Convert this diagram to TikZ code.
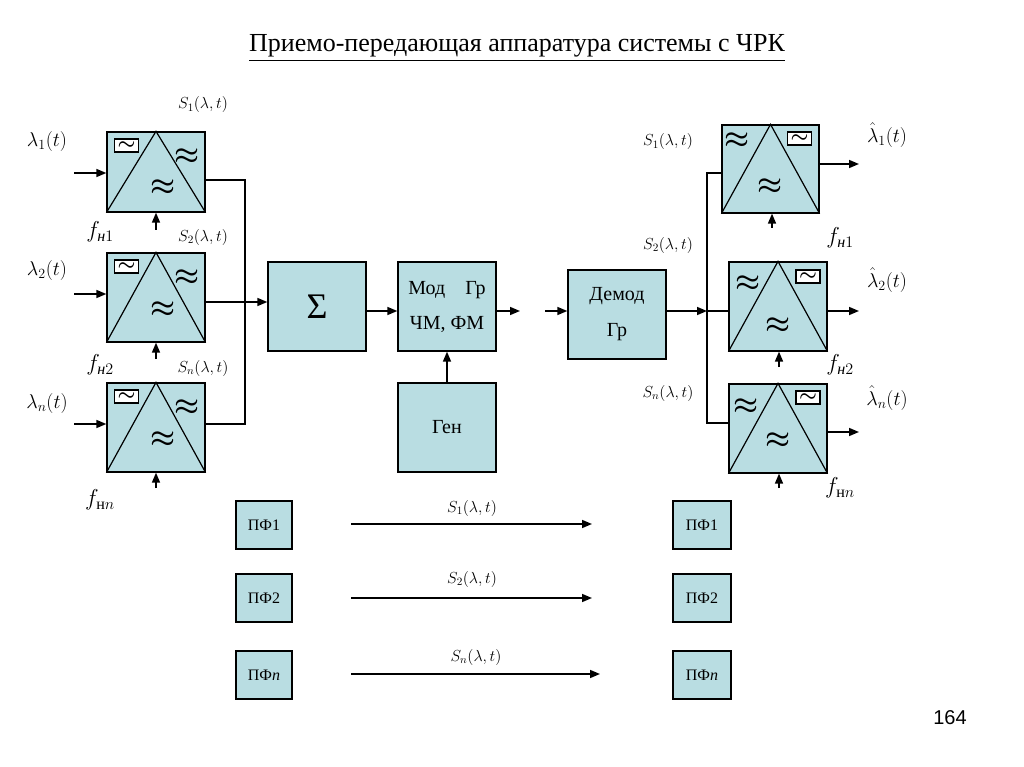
\RequirePackage{fix-cm}
\documentclass[tikz,border=0pt]{standalone}
\usepackage{amsmath}
\usepackage{fontspec}
\setmainfont{Liberation Serif}
\newfontfamily\numfont{Liberation Sans}
\usepackage{tikz}
\usetikzlibrary{arrows.meta,positioning,calc}
\definecolor{blockfill}{RGB}{185,221,226}

\begin{document}
\begin{tikzpicture}
	[x=1pt,y=-1pt,
	blk/.style={rectangle,draw=black,fill=blockfill,line width=1.3pt,
		inner sep=0pt,minimum width=98pt,minimum height=89pt,font=\fontsize{20}{22}\selectfont},
	pfblk/.style={rectangle,draw=black,fill=blockfill,line width=1.3pt,
		inner sep=0pt,minimum height=48pt,font=\fontsize{16}{16}\selectfont},
	tilde/.style={rectangle,draw=black,fill=white,line width=1.4pt,
		inner sep=0pt,minimum width=24pt,minimum height=13pt,font=\fontsize{20}{20}\selectfont},
	apx/.style={inner sep=0pt,font=\fontsize{28}{28}\selectfont},
	tri/.style={black,line width=1.2pt},
	wire/.style={black,line width=1.2pt},
	arr/.style={-{Triangle[length=10pt,width=8pt]},line width=1.6pt},
	lbl/.style={inner sep=0pt,font=\fontsize{16}{18}\selectfont},
	biglbl/.style={inner sep=0pt,font=\fontsize{20}{22}\selectfont},
	flbl/.style={inner sep=0pt,font=\fontsize{23}{24}\selectfont}]
\useasboundingbox (0,0) rectangle (1024,767);
% titulo
\node (title) at (517,48) {\fontsize{26}{28}\selectfont\underline{Приемо-передающая аппаратура системы с ЧРК}};
\node (page) at (950,718) {\numfont\fontsize{20}{22}\selectfont 164};

% moduladores
\node[blk,minimum height=80pt] (mA) at (156,172) {};
\node[blk] (mB) at (156,297.5) {};
\node[blk] (mC) at (156,427.5) {};
\draw[tri] (mA.south west) -- (mA.north) -- (mA.south east);
\draw[tri] (mB.south west) -- (mB.north) -- (mB.south east);
\draw[tri] (mC.south west) -- (mC.north) -- (mC.south east);
\node[tilde] (tA) at ([shift={(-29.5,14)}]mA.north) {$\boldsymbol{\sim}$};
\node[tilde] (tB) at ([shift={(-29.5,14)}]mB.north) {$\boldsymbol{\sim}$};
\node[tilde] (tC) at ([shift={(-29.5,14)}]mC.north) {$\boldsymbol{\sim}$};
\node[apx] (aA1) at ([shift={(31,25)}]mA.north) {$\boldsymbol{\approx}$};
\node[apx] (aA2) at ([shift={(7,56)}]mA.north) {$\boldsymbol{\approx}$};
\node[apx] (aB1) at ([shift={(31,25)}]mB.north) {$\boldsymbol{\approx}$};
\node[apx] (aB2) at ([shift={(7,57)}]mB.north) {$\boldsymbol{\approx}$};
\node[apx] (aC1) at ([shift={(31,25)}]mC.north) {$\boldsymbol{\approx}$};
\node[apx] (aC2) at ([shift={(7,57)}]mC.north) {$\boldsymbol{\approx}$};
\node[biglbl] (lA) at (47,142) {$\lambda_1(t)$};
\node[biglbl] (lB) at (47,270) {$\lambda_2(t)$};
\node[biglbl] (lC) at (47,403) {$\lambda_n(t)$};
\node[lbl] (sA) at (203,105) {$S_1(\lambda,t)$};
\node[lbl] (sB) at (203,237) {$S_2(\lambda,t)$};
\node[lbl] (sC) at (203,368) {$S_n(\lambda,t)$};
\node[flbl] (fnA) at (100,232) {$f_{\text{\itshape н}1}$};
\node[flbl] (fnB) at (100,365) {$f_{\text{\itshape н}2}$};
\node[flbl] (fnC) at (100,500) {$f_{\text{н}n}$};
\coordinate (inA) at (74,173);
\coordinate (inB) at (74,294);
\coordinate (inC) at (74,424);
\draw[arr] (inA) -- (inA -| mA.west);
\draw[arr] (inB) -- (inB -| mB.west);
\draw[arr] (inC) -- (inC -| mC.west);
\coordinate (fA) at (156,230);
\coordinate (fB) at (156,359);
\coordinate (fC) at (156,488);
\draw[arr] (fA) -- (fA |- mA.south);
\draw[arr] (fB) -- (fB |- mB.south);
\draw[arr] (fC) -- (fC |- mC.south);

% sumador, modulador, generador
\node[blk,font=\fontsize{36}{36}\selectfont] (sig) at (317,306.5) {Σ};
\node[blk,align=center] (mod) at (447,306.5) {Мод\quad Гр\\[13pt]ЧМ, ФМ};
\node[blk] (gen) at (447,427.5) {Ген};
\coordinate (busA) at (245,180);
\coordinate (busC) at (245,424);
\coordinate (busB) at (245,302);
\draw[wire] (mA.east |- busA) -- (busA) -- (busC) -- (mC.east |- busC);
\draw[arr] (mB.east |- busB) -- (sig.west |- busB);
\coordinate (c311) at (0,311);
\coordinate (modout) at (520,311);
\draw[arr] (sig.east |- c311) -- (mod.west |- c311);
\draw[arr] (mod.east |- modout) -- (modout);
\draw[arr] (gen.north) -- (mod.south);

% demodulador
\node[blk,align=center] (dem) at (617,314.5) {Демод\\[14pt]Гр};
\coordinate (dmin) at (545,311);
\draw[arr] (dmin) -- (dmin -| dem.west);
\node[blk,minimum width=97pt,minimum height=88pt] (dA) at (770.5,169) {};
\node[blk] (dB) at (778,306.5) {};
\node[blk] (dC) at (778,428.5) {};
\draw[tri] (dA.south west) -- (dA.north) -- (dA.south east);
\draw[tri] (dB.south west) -- (dB.north) -- (dB.south east);
\draw[tri] (dC.south west) -- (dC.north) -- (dC.south east);
\node[tilde] (tD) at ([shift={(29,14)}]dA.north) {$\boldsymbol{\sim}$};
\node[tilde] (tE) at ([shift={(30,15)}]dB.north) {$\boldsymbol{\sim}$};
\node[tilde] (tF) at ([shift={(30,14)}]dC.north) {$\boldsymbol{\sim}$};
\node[apx] (aD1) at ([shift={(-33,16)}]dA.north) {$\boldsymbol{\approx}$};
\node[apx] (aD2) at ([shift={(0,62)}]dA.north) {$\boldsymbol{\approx}$};
\node[apx] (aE1) at ([shift={(-30,22)}]dB.north) {$\boldsymbol{\approx}$};
\node[apx] (aE2) at ([shift={(0,64)}]dB.north) {$\boldsymbol{\approx}$};
\node[apx] (aF1) at ([shift={(-32,23)}]dC.north) {$\boldsymbol{\approx}$};
\node[apx] (aF2) at ([shift={(0,57)}]dC.north) {$\boldsymbol{\approx}$};
\coordinate (busT) at (707,173);
\coordinate (busD) at (707,311);
\coordinate (busN) at (707,423);
\draw[arr] (dem.east |- busD) -- (busD);
\draw[wire] (dA.west |- busT) -- (busT) -- (busN) -- (dC.west |- busN);
\draw[wire] (busD) -- (dB.west |- busD);
\coordinate (oA) at (859,164);
\coordinate (oB) at (859,311);
\coordinate (oC) at (859,432);
\draw[arr] (dA.east |- oA) -- (oA);
\draw[arr] (dB.east |- oB) -- (oB);
\draw[arr] (dC.east |- oC) -- (oC);
\coordinate (gA) at (772,228);
\coordinate (gB) at (779,367);
\coordinate (gC) at (779,488);
\draw[arr] (gA) -- (gA |- dA.south);
\draw[arr] (gB) -- (gB |- dB.south);
\draw[arr] (gC) -- (gC |- dC.south);
\node[lbl] (sD) at (668,142) {$S_1(\lambda,t)$};
\node[lbl] (sE) at (668,245) {$S_2(\lambda,t)$};
\node[lbl] (sF) at (668,393) {$S_n(\lambda,t)$};
\node[biglbl] (lD) at (887,135) {$\hat{\lambda}_1(t)$};
\node[biglbl] (lE) at (887,280) {$\hat{\lambda}_2(t)$};
\node[biglbl] (lF) at (887,398) {$\hat{\lambda}_n(t)$};
\node[flbl] (fnD) at (840,238) {$f_{\text{\itshape н}1}$};
\node[flbl] (fnE) at (840,365) {$f_{\text{\itshape н}2}$};
\node[flbl] (fnF) at (840,488) {$f_{\text{н}n}$};

% filtros
\node[pfblk,minimum width=56pt] (pA) at (264,525) {ПФ1};
\node[pfblk,minimum width=56pt] (pB) at (264,598) {ПФ2};
\node[pfblk,minimum width=56pt] (pC) at (264,675) {ПФ\textit{n}};
\node[pfblk,minimum width=58pt] (qA) at (702,525) {ПФ1};
\node[pfblk,minimum width=58pt] (qB) at (702,598) {ПФ2};
\node[pfblk,minimum width=58pt] (qC) at (702,675) {ПФ\textit{n}};
\coordinate (kA0) at (351,524);
\coordinate (kA1) at (592,524);
\coordinate (kB0) at (351,598);
\coordinate (kB1) at (592,598);
\coordinate (kC0) at (351,674);
\coordinate (kC1) at (600,674);
\draw[arr] (kA0) -- (kA1);
\draw[arr] (kB0) -- (kB1);
\draw[arr] (kC0) -- (kC1);
\node[lbl] (sG) at (472,508) {$S_1(\lambda,t)$};
\node[lbl] (sH) at (472,579) {$S_2(\lambda,t)$};
\node[lbl] (sI) at (476,657) {$S_n(\lambda,t)$};
\end{tikzpicture}
\end{document}
